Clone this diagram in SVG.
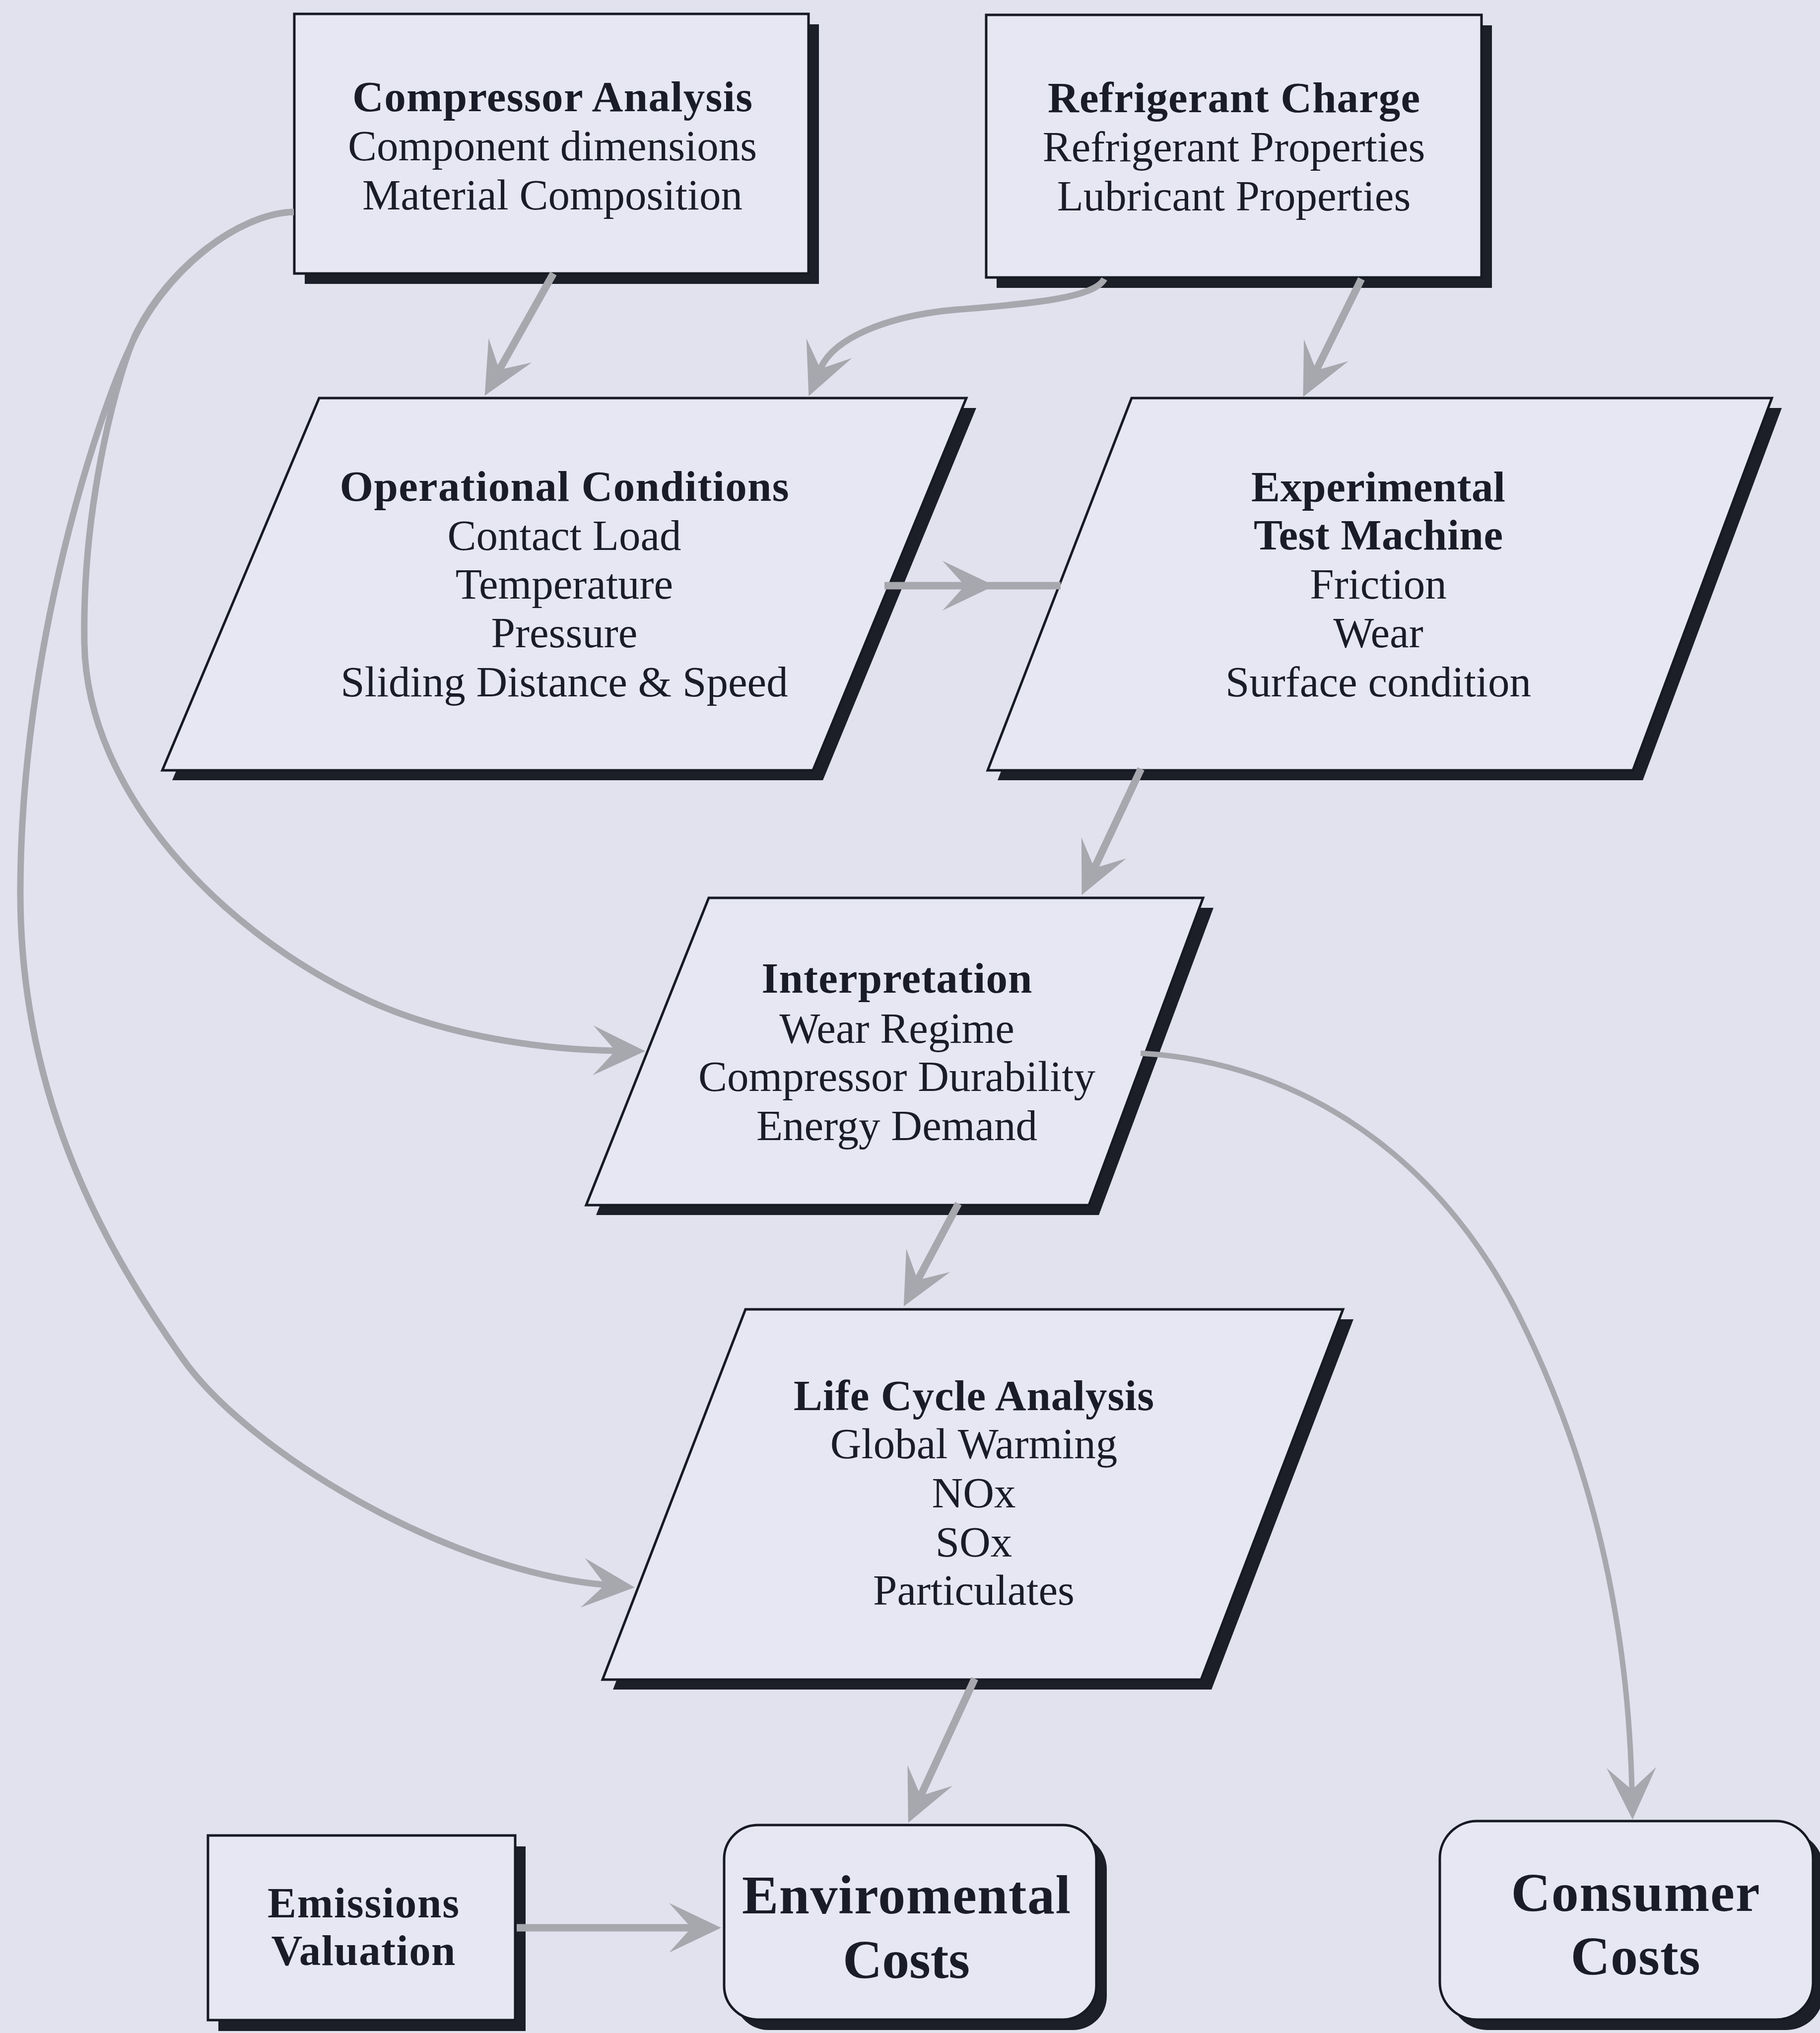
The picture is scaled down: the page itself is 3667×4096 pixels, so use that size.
<svg xmlns="http://www.w3.org/2000/svg" width="3667" height="4096" viewBox="0 0 3667 4096">
<defs>
<style>
.bg{fill:#e1e2ee}
.node{fill:#e6e7f2;stroke:#171923;stroke-width:5;stroke-linejoin:miter}
.shadow{fill:#1c1e28}
.t{font-family:"Liberation Serif","Times New Roman",serif;font-size:87px;fill:#1a1c28;text-anchor:middle}
.b{font-weight:bold}
.big{font-size:110px}
.conn{fill:none;stroke:#a7a8ae;stroke-width:15;stroke-linecap:butt}
.curve{stroke-width:13}
.thin{stroke-width:11}
</style>
<marker id="arrow" markerUnits="userSpaceOnUse" markerWidth="120" markerHeight="110" viewBox="-50 -55 120 110" refX="0" refY="0" orient="auto">
<path d="M60,0 L-45,-50 L0,0 L-45,50 Z" fill="#a7a8ae"/>
</marker>
</defs>
<rect class="bg" x="0" y="0" width="3667" height="4096"/>

<g id="compressor-analysis">
<rect class="shadow" x="614" y="49" width="1036" height="523"/>
<rect class="node" x="593" y="28" width="1036" height="523"/>
<text class="t b" x="1113" y="224" textLength="806" lengthAdjust="spacing">Compressor Analysis</text>
<text class="t" x="1113" y="323">Component dimensions</text>
<text class="t" x="1113" y="422">Material Composition</text>
</g>

<g id="refrigerant-charge">
<rect class="shadow" x="2008" y="51" width="998" height="529"/>
<rect class="node" x="1987" y="30" width="998" height="529"/>
<text class="t b" x="2486" y="226" textLength="750" lengthAdjust="spacing">Refrigerant Charge</text>
<text class="t" x="2486" y="325">Refrigerant Properties</text>
<text class="t" x="2486" y="424">Lubricant Properties</text>
</g>

<g id="operational-conditions">
<polygon class="shadow" points="663,822 1967,822 1658,1572 347,1572"/>
<polygon class="node" points="643,802 1947,802 1638,1552 327,1552"/>
<text class="t b" x="1137" y="1009" textLength="905" lengthAdjust="spacing">Operational Conditions</text>
<text class="t" x="1137" y="1108">Contact Load</text>
<text class="t" x="1137" y="1206">Temperature</text>
<text class="t" x="1137" y="1304">Pressure</text>
<text class="t" x="1137" y="1403">Sliding Distance &amp; Speed</text>
</g>

<g id="experimental-test-machine">
<polygon class="shadow" points="2300,822 3590,822 3310,1572 2010,1572"/>
<polygon class="node" points="2280,802 3570,802 3290,1552 1990,1552"/>
<text class="t b" x="2777" y="1010" textLength="512" lengthAdjust="spacing">Experimental</text>
<text class="t b" x="2777" y="1107" textLength="502" lengthAdjust="spacing">Test Machine</text>
<text class="t" x="2777" y="1206">Friction</text>
<text class="t" x="2777" y="1304">Wear</text>
<text class="t" x="2777" y="1403">Surface condition</text>
</g>

<g id="interpretation">
<polygon class="shadow" points="1449,1829 2445,1829 2214,2448 1201,2448"/>
<polygon class="node" points="1428,1809 2424,1809 2194,2428 1181,2428"/>
<text class="t b" x="1807" y="2000" textLength="545" lengthAdjust="spacing">Interpretation</text>
<text class="t" x="1807" y="2101">Wear Regime</text>
<text class="t" x="1807" y="2198">Compressor Durability</text>
<text class="t" x="1807" y="2297">Energy Demand</text>
</g>

<g id="life-cycle-analysis">
<polygon class="shadow" points="1523,2658 2727,2658 2441,3404 1235,3404"/>
<polygon class="node" points="1502,2638 2706,2638 2420,3384 1214,3384"/>
<text class="t b" x="1962" y="2841" textLength="726" lengthAdjust="spacing">Life Cycle Analysis</text>
<text class="t" x="1962" y="2938">Global Warming</text>
<text class="t" x="1962" y="3037">NOx</text>
<text class="t" x="1962" y="3136">SOx</text>
<text class="t" x="1962" y="3233">Particulates</text>
</g>

<g id="emissions-valuation">
<rect class="shadow" x="440" y="3720" width="619" height="372"/>
<rect class="node" x="419" y="3698" width="619" height="372"/>
<text class="t b" x="732" y="3863" textLength="386" lengthAdjust="spacing">Emissions</text>
<text class="t b" x="732" y="3959" textLength="371" lengthAdjust="spacing">Valuation</text>
</g>

<g id="environmental-costs">
<rect class="shadow" x="1480" y="3698" width="750" height="392" rx="68"/>
<rect class="node" x="1459" y="3677" width="750" height="392" rx="68"/>
<text class="t b big" x="1826" y="3855" textLength="662" lengthAdjust="spacing">Enviromental</text>
<text class="t b big" x="1826" y="3985" textLength="256" lengthAdjust="spacing">Costs</text>
</g>

<g id="consumer-costs">
<rect class="shadow" x="2922" y="3690" width="752" height="400" rx="75"/>
<rect class="node" x="2901" y="3669" width="752" height="400" rx="75"/>
<text class="t b big" x="3295" y="3850" textLength="501" lengthAdjust="spacing">Consumer</text>
<text class="t b big" x="3295" y="3978" textLength="261" lengthAdjust="spacing">Costs</text>
</g>

<g id="connectors">
<path id="c-comp-op" class="conn" d="M1115,551 L1006,745" marker-end="url(#arrow)"/>
<path id="c-ref-op" class="conn curve" d="M2225,562 C2205,600 2080,612 1925,624 C1790,636 1680,680 1653,743" marker-end="url(#arrow)"/>
<path id="c-ref-exp" class="conn" d="M2743,562 L2652,746" marker-end="url(#arrow)"/>
<g id="c-op-exp">
<path class="conn" d="M1782,1180 L1944,1180" marker-end="url(#arrow)"/>
<path class="conn" d="M1944,1180 L2137,1180"/>
</g>
<path id="c-exp-int" class="conn" d="M2299,1549 L2205,1749" marker-end="url(#arrow)"/>
<path id="c-comp-int" class="conn curve" d="M592,427 C480,430 340,540 276,668 C244,732 165,1000 170,1296 C175,1600 450,1880 734,2012 C900,2090 1100,2115 1240,2117" marker-end="url(#arrow)"/>
<path id="c-comp-lca" class="conn curve" d="M592,427 C480,430 330,545 262,700 C200,830 41,1300 41,1800 C41,2200 200,2500 367,2736 C500,2925 900,3165 1219,3193" marker-end="url(#arrow)"/>
<path id="c-int-lca" class="conn" d="M1931,2425 L1849,2579" marker-end="url(#arrow)"/>
<path id="c-int-cons" class="conn thin" d="M2298,2122 C2620,2140 2900,2330 3060,2650 C3200,2930 3280,3250 3288,3606" marker-end="url(#arrow)"/>
<path id="c-lca-env" class="conn" d="M1964,3382 L1855,3618" marker-end="url(#arrow)"/>
<path id="c-em-env" class="conn" d="M1041,3884 L1393,3884" marker-end="url(#arrow)"/>
</g>
</svg>
